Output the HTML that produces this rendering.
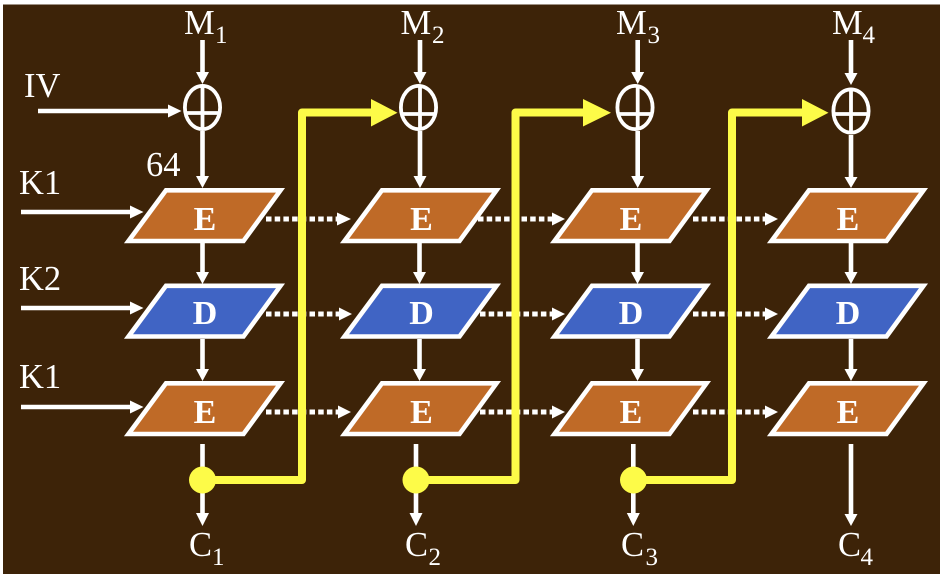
<!DOCTYPE html>
<html><head><meta charset="utf-8"><style>
html,body{margin:0;padding:0;background:#3d2308;width:940px;height:574px;overflow:hidden}
svg{display:block}
text{font-family:"Liberation Serif",serif;fill:#fff}
.m{font-size:34.500px}.s{font-size:25px}.b{font-size:34px;font-weight:bold;text-anchor:middle}
.w{stroke:#fff;stroke-width:4.600;fill:none}
.d{stroke:#fff;stroke-width:5;fill:none;stroke-dasharray:5.500 3.200}
.y{stroke:#fdfb48;stroke-width:8;fill:none;stroke-linejoin:round}
.h{fill:#fff}.hy{fill:#fdfb48}
</style></head><body>
<svg width="940" height="574" viewBox="0 0 940 574" xmlns="http://www.w3.org/2000/svg">
<defs><polygon id="p" points="166,190.300 280.500,190.300 243.500,241 128.500,241" stroke="#fff" stroke-width="4.600" stroke-linejoin="miter" stroke-miterlimit="10"/></defs>
<rect x="0" y="0" width="940" height="574" fill="#fff"/>
<rect x="3" y="4.500" width="937" height="570" fill="#3d2308"/>

<!-- dotted -->
<path class="d" d="M266 219H338M478 219H553M693 219H767
M266 314H339M480 314H553M693 314H767
M266 412H338M480 412H553M693 412H767"/>
<path class="h" d="M337 212.500V225.500L351 219ZM552 212.500V225.500L565 219ZM765 212.500V225.500L778 219Z
M339 307.500V320.500L352 314ZM552 307.500V320.500L565 314ZM765 307.500V320.500L778 314Z
M338 405.500V418.500L351 412ZM552 405.500V418.500L565 412ZM765 405.500V418.500L778 412Z"/>

<!-- parallelograms -->
<g fill="#bf6a27"><use href="#p"/><use href="#p" x="216"/><use href="#p" x="426"/><use href="#p" x="643"/></g>
<g fill="#4064c4"><use href="#p" y="95.500"/><use href="#p" x="216" y="95.500"/><use href="#p" x="426" y="95.500"/><use href="#p" x="643" y="95.500"/></g>
<g fill="#bf6a27"><use href="#p" y="193"/><use href="#p" x="216" y="193"/><use href="#p" x="426" y="193"/><use href="#p" x="643" y="193"/></g>

<!-- white vertical lines -->
<path class="w" d="M202.500 40V73M202.500 131V177M202.500 243V273M202.500 339V370M202.500 444V514
M420 40V73M420 131V177M419.500 243V273M419.500 339V370M416 444V514
M637.700 40V73M637.700 131V177M637.500 243V273M637.500 339V370M633.300 444V514
M851 40V74M851 135V177M851 243V273M851 339V370M851 444V515"/>
<!-- white down heads -->
<path class="h" d="M196 72H209L202.500 84ZM196 176H209L202.500 188ZM196 272H209L202.500 284ZM196 369H209L202.500 381ZM196 513H209L202.500 526Z
M413.500 72H426.500L420 84ZM413.500 176H426.500L420 188ZM413 272H426L419.500 284ZM413 369H426L419.500 381ZM409.500 513H422.500L416 526Z
M631.200 72H644.200L637.700 84ZM631.200 176H644.200L637.700 188ZM631 272H644L637.500 284ZM631 369H644L637.500 381ZM626.800 513H639.800L633.300 526Z
M844.500 73H857.500L851 85ZM844.500 177H857.500L851 188ZM844.500 272H857.500L851 284ZM844.500 369H857.500L851 381ZM844.500 514H857.500L851 526Z"/>

<!-- inputs -->
<path class="w" d="M38 111H170M21 212H131M21 308H131M21 407H131"/>
<path class="h" d="M168 104.500V117.500L181.500 111ZM130 205.500V218.500L143.500 212ZM130 301.500V314.500L143.500 308ZM130 400.500V413.500L143.500 407Z"/>

<!-- XOR circles -->
<g fill="none" stroke="#fff" stroke-width="3.800">
<ellipse cx="202.500" cy="107.500" rx="17.600" ry="21.600"/><path d="M185 113H220M202.500 86V130"/>
<ellipse cx="418.500" cy="107.500" rx="17.600" ry="21.600"/><path d="M401 114H436M420 86V130"/>
<ellipse cx="635" cy="107.500" rx="17.600" ry="21.600"/><path d="M617.500 114H652.500M637.700 86V130"/>
<ellipse cx="851" cy="111" rx="17.600" ry="21.600"/><path d="M833.500 114H868.500M851 89V133"/>
</g>

<!-- yellow -->
<path class="y" d="M202.500 480H302V112.500H374"/>
<path class="y" d="M416 480H515.500V112.500H585"/>
<path class="y" d="M633.300 480H732V112.500H804"/>
<path class="hy" d="M371 99V126.500L397.500 112.700ZM583 99V126.500L611 112.700ZM802 99V126.500L828.500 112.700Z"/>
<circle class="hy" cx="202.500" cy="480" r="13.500"/>
<circle class="hy" cx="416" cy="480" r="13.500"/>
<circle class="hy" cx="633.500" cy="480" r="13.500"/>

<!-- labels -->
<text class="m" x="184" y="34">M</text><text class="s" x="215" y="43">1</text>
<text class="m" x="400.500" y="34">M</text><text class="s" x="432" y="43">2</text>
<text class="m" x="616" y="34">M</text><text class="s" x="647.500" y="43">3</text>
<text class="m" x="832" y="34">M</text><text class="s" x="862.500" y="43">4</text>
<text class="m" x="24" y="97">IV</text>
<text class="m" x="146" y="176">64</text>
<text class="m" x="19" y="194">K1</text>
<text class="m" x="19" y="290">K2</text>
<text class="m" x="19" y="388">K1</text>
<text class="m" x="189" y="556">C</text><text class="s" x="212" y="565">1</text>
<text class="m" x="405" y="556">C</text><text class="s" x="428.500" y="565">2</text>
<text class="m" x="621" y="556">C</text><text class="s" x="645.500" y="565">3</text>
<text class="m" x="838" y="556">C</text><text class="s" x="860.500" y="565">4</text>

<text class="b" x="205" y="230">E</text><text class="b" x="421.500" y="230">E</text><text class="b" x="631" y="230">E</text><text class="b" x="848" y="230">E</text>
<text class="b" x="205" y="324">D</text><text class="b" x="421.500" y="324">D</text><text class="b" x="631" y="324">D</text><text class="b" x="848" y="324">D</text>
<text class="b" x="205" y="423">E</text><text class="b" x="421.500" y="423">E</text><text class="b" x="631" y="423">E</text><text class="b" x="848" y="423">E</text>
</svg>
</body></html>
